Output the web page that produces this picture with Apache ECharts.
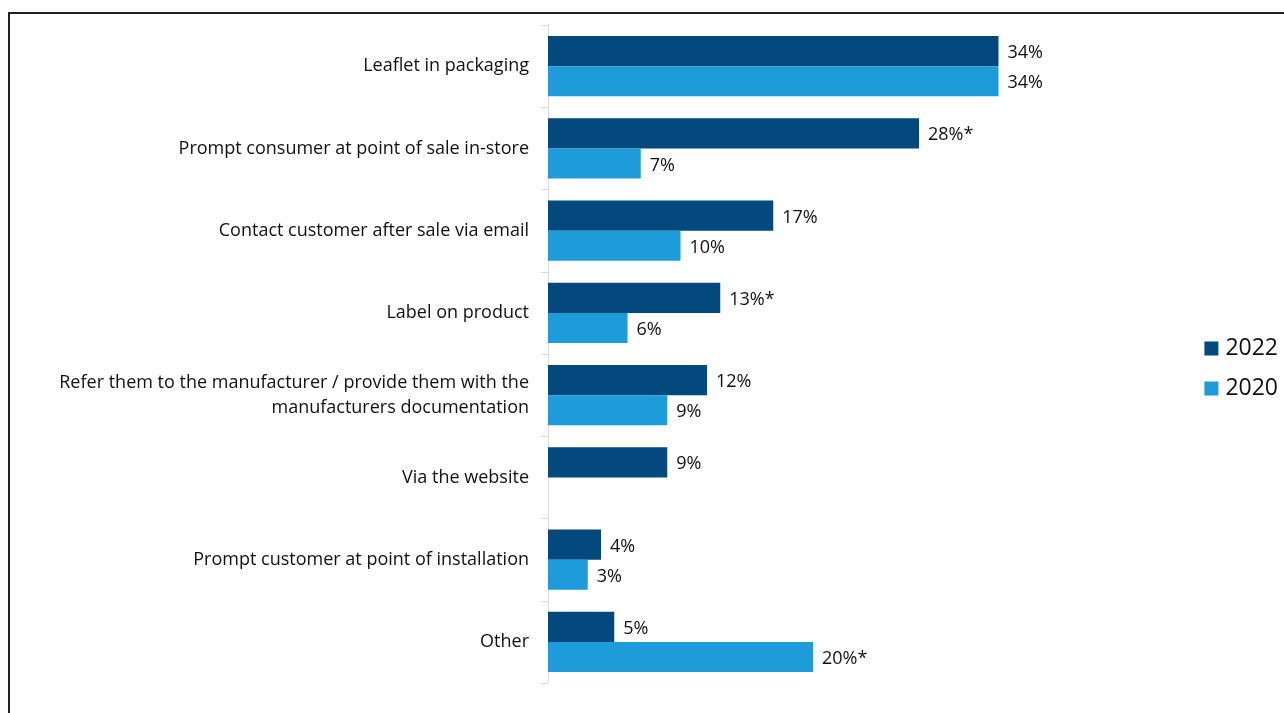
<!DOCTYPE html>
<html>
<head>
<meta charset="utf-8">
<script src="https://cdn.jsdelivr.net/npm/echarts@6/dist/echarts.min.js"></script>
<style>
  html, body { margin: 0; padding: 0; background: #fff; }
  #chart { width: 1284px; height: 713px; }
</style>
</head>
<body>
<div id="chart"></div>
<script>
// Categories, top to bottom
const categories = [
  'Leaflet in packaging',
  'Prompt consumer at point of sale in-store',
  'Contact customer after sale via email',
  'Label on product',
  'Refer them to the manufacturer / provide them with the\nmanufacturers documentation',
  'Via the website',
  'Prompt customer at point of installation',
  'Other'
];

// Percentages per year (null = not asked that year)
const values2022 = [34, 28, 17, 13, 12, 9, 4, 5];
const values2020 = [34, 7, 10, 6, 9, null, 3, 20];

// Significant change marker (asterisk next to the value)
const sig2022 = [false, true, false, true, false, false, false, false];
const sig2020 = [false, false, false, false, false, false, false, true];

const FONT = '"Open Sans", "Noto Sans", sans-serif';

function makeLabel(flags) {
  return {
    show: true,
    position: 'right',
    distance: 9,
    offset: [0, 2],
    fontFamily: FONT,
    fontSize: 18,
    color: '#111',
    formatter: p => p.value == null ? '' : p.value + '%' + (flags[p.dataIndex] ? '*' : '')
  };
}

const chart = echarts.init(document.getElementById('chart'), null, { renderer: 'canvas' });
chart.setOption({
  backgroundColor: '#fff',
  animation: false,
  graphic: [{
    type: 'rect',
    shape: { x: 9, y: 13, width: 1400, height: 800 },
    style: { fill: 'none', stroke: '#222', lineWidth: 2 },
    silent: true,
    z: 100
  }],
  legend: {
    orient: 'vertical',
    right: 1,
    top: 332,
    itemWidth: 14,
    itemHeight: 14,
    itemGap: 17,
    icon: 'rect',
    textStyle: { fontFamily: FONT, fontSize: 23, color: '#111', padding: [0, 0, 0, 2] },
    data: ['2022', '2020']
  },
  grid: { left: 548, top: 25, bottom: 30, right: 206, containLabel: false },
  xAxis: {
    type: 'value',
    min: 0,
    max: 40,
    show: false
  },
  yAxis: {
    type: 'category',
    inverse: true,
    data: categories,
    axisLine: { show: true, lineStyle: { color: '#d9d9d9', width: 1 } },
    axisTick: { show: true, length: 7, lineStyle: { color: '#d9d9d9' } },
    axisLabel: {
      margin: 19,
      fontFamily: FONT,
      fontSize: 18,
      color: '#111',
      lineHeight: 25,
      padding: [4, 0, 0, 0],
      align: 'right'
    }
  },
  series: [
    {
      name: '2022',
      type: 'bar',
      data: values2022,
      barGap: '0%',
      barCategoryGap: '27%',
      itemStyle: { color: '#03497D' },
      label: makeLabel(sig2022)
    },
    {
      name: '2020',
      type: 'bar',
      data: values2020,
      itemStyle: { color: '#1D9CD9' },
      label: makeLabel(sig2020)
    }
  ]
});
</script>
</body>
</html>
